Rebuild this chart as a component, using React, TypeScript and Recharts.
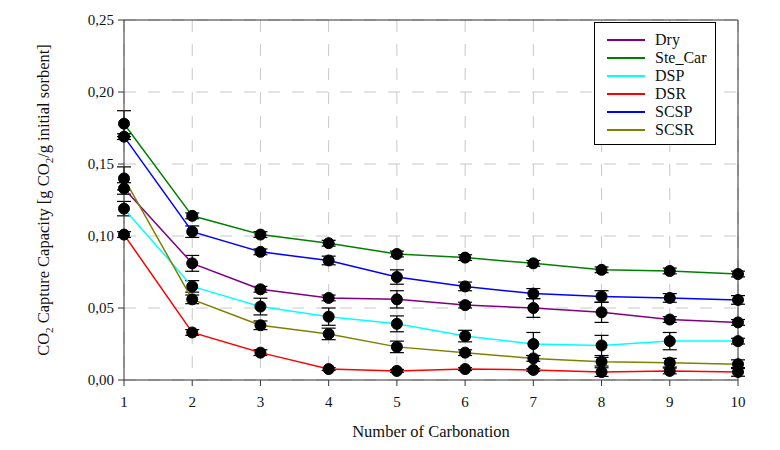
import React from 'react';
import { LineChart, Line, XAxis, YAxis, CartesianGrid, ErrorBar, Legend, ReferenceLine } from 'recharts';

const cycles = [1, 2, 3, 4, 5, 6, 7, 8, 9, 10];

const dry = [0.133, 0.081, 0.063, 0.057, 0.056, 0.052, 0.050, 0.047, 0.042, 0.040];
const dryErr = [0.004, 0.0055, 0.002, 0.002, 0.006, 0.002, 0.0065, 0.007, 0.002, 0.002];

const steCar = [0.178, 0.114, 0.101, 0.095, 0.0875, 0.085, 0.081, 0.0765, 0.0757, 0.0736];
const steCarErr = [0.009, 0.002, 0.002, 0.002, 0.002, 0.002, 0.002, 0.002, 0.002, 0.002];

const dsp = [0.119, 0.065, 0.051, 0.044, 0.039, 0.0305, 0.025, 0.024, 0.027, 0.027];
const dspErr = [0.005, 0.004, 0.0058, 0.006, 0.0055, 0.004, 0.008, 0.007, 0.006, 0.002];

const dsr = [0.101, 0.033, 0.019, 0.0076, 0.0063, 0.0076, 0.007, 0.0055, 0.0063, 0.0056];
const dsrErr = [0.002, 0.002, 0.002, 0.001, 0.001, 0.001, 0.001, 0.003, 0.002, 0.003];

const scsp = [0.169, 0.103, 0.089, 0.083, 0.0715, 0.065, 0.060, 0.058, 0.057, 0.0556];
const scspErr = [0.002, 0.004, 0.002, 0.003, 0.005, 0.003, 0.0035, 0.004, 0.003, 0.003];

const scsr = [0.140, 0.056, 0.038, 0.032, 0.023, 0.019, 0.015, 0.0127, 0.012, 0.011];
const scsrErr = [0.008, 0.003, 0.003, 0.004, 0.004, 0.002, 0.002, 0.003, 0.003, 0.003];

const yTicks = [0, 0.05, 0.1, 0.15, 0.2, 0.25];

const series = [
  { key: 'Dry', values: dry, errs: dryErr, color: '#800080' },
  { key: 'Ste_Car', values: steCar, errs: steCarErr, color: '#008000' },
  { key: 'DSP', values: dsp, errs: dspErr, color: '#00ffff' },
  { key: 'DSR', values: dsr, errs: dsrErr, color: '#ff0000' },
  { key: 'SCSP', values: scsp, errs: scspErr, color: '#0000ff' },
  { key: 'SCSR', values: scsr, errs: scsrErr, color: '#808000' },
];

const data = cycles.map((c, i) => {
  const row: Record<string, number> = { cycle: c };
  series.forEach((s) => {
    row[s.key] = s.values[i];
    row[s.key + 'Err'] = s.errs[i];
  });
  return row;
});

const FONT = "'Liberation Serif', 'DejaVu Serif', serif";

const renderLegend = () => (
  <div
    style={{
      border: '1.5px solid #000',
      background: '#fff',
      padding: '8px 0 5px 12px',
      fontFamily: FONT,
      fontSize: 16,
      lineHeight: '18px',
      color: '#111',
      boxSizing: 'border-box',
      width: 122,
    }}
  >
    {series.map((s) => (
      <div key={s.key} style={{ display: 'flex', alignItems: 'center', height: 18, fontFamily: FONT }}>
        <span style={{ display: 'inline-block', width: 38, height: 2, background: s.color, marginRight: 10 }} />
        <span>{s.key}</span>
      </div>
    ))}
  </div>
);

const YLabel = () => (
  <text
    transform="translate(41,192) rotate(-90)"
    textAnchor="middle"
    fontFamily={FONT}
    fontSize={16.5}
    fill="#111"
  >
    CO<tspan fontSize={11} dy={4}>2</tspan>
    <tspan dy={-4}> Capture Capacity [g CO</tspan>
    <tspan fontSize={11} dy={4}>2</tspan>
    <tspan dy={-4}>/g initial sorbent]</tspan>
  </text>
);

export default function App() {
  return (
    <div style={{ width: 772, height: 440, position: 'relative' }}>
      <LineChart width={772} height={440} data={data} margin={{ top: 12, right: 42, left: 56, bottom: 8 }}>
        <CartesianGrid stroke="#c8c8c8" strokeDasharray="12 12" />
        <XAxis
          dataKey="cycle"
          type="number"
          domain={[1, 10]}
          ticks={cycles}
          height={60}
          stroke="#333"
          tickSize={6}
          tick={{ fontFamily: FONT, fontSize: 15, fill: '#111' }}
          tickMargin={10}
          label={{ value: 'Number of Carbonation', position: 'insideBottom', offset: 3, style: { fontFamily: FONT, fontSize: 16.5, fill: '#111' } }}
        />
        <YAxis
          type="number"
          domain={[0, 0.25]}
          ticks={yTicks}
          width={60}
          stroke="#333"
          tickSize={6}
          tickMargin={4}
          tickFormatter={(v: number) => v.toFixed(2).replace('.', ',')}
          tick={{ fontFamily: FONT, fontSize: 15, fill: '#111' }}
          label={<YLabel />}
        />
        <ReferenceLine y={0.25} stroke="#333" strokeWidth={1} />
        <ReferenceLine x={10} stroke="#333" strokeWidth={1} />
        {series.map((s) => (
          <Line
            key={s.key}
            dataKey={s.key}
            stroke={s.color}
            strokeWidth={1.5}
            isAnimationActive={false}
            dot={{ r: 5.5, fill: '#000', stroke: '#000', strokeWidth: 1 }}
          >
            <ErrorBar dataKey={s.key + 'Err'} width={7} stroke="#000" strokeWidth={1.2} />
          </Line>
        ))}
        <Legend
          layout="vertical"
          align="center"
          verticalAlign="middle"
          content={renderLegend}
          wrapperStyle={{ top: 14, left: 586, width: 122 }}
        />
      </LineChart>
    </div>
  );
}
